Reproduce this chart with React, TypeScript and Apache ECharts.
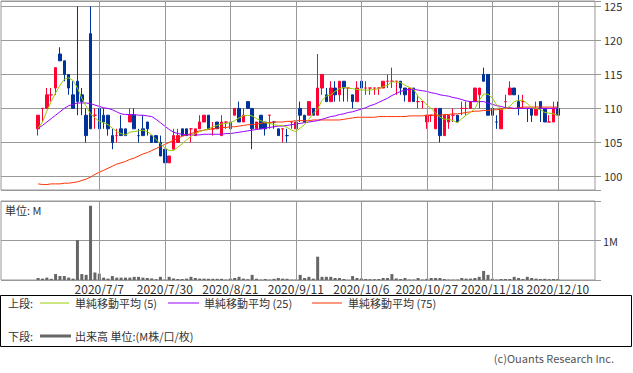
import { useEffect, useRef } from 'react';
import * as echarts from 'echarts';

const dates = [
  '2020/6/17','2020/6/18','2020/6/19','2020/6/22','2020/6/23','2020/6/24','2020/6/25','2020/6/26','2020/6/29','2020/6/30',
  '2020/7/1','2020/7/2','2020/7/3','2020/7/6','2020/7/7','2020/7/8','2020/7/9','2020/7/10','2020/7/13','2020/7/14',
  '2020/7/15','2020/7/16','2020/7/17','2020/7/20','2020/7/21','2020/7/22','2020/7/27','2020/7/28','2020/7/29','2020/7/30',
  '2020/7/31','2020/8/3','2020/8/4','2020/8/5','2020/8/6','2020/8/7','2020/8/11','2020/8/12','2020/8/13','2020/8/14',
  '2020/8/17','2020/8/18','2020/8/19','2020/8/20','2020/8/21','2020/8/24','2020/8/25','2020/8/26','2020/8/27','2020/8/28',
  '2020/8/31','2020/9/1','2020/9/2','2020/9/3','2020/9/4','2020/9/7','2020/9/8','2020/9/9','2020/9/10','2020/9/11',
  '2020/9/14','2020/9/15','2020/9/16','2020/9/17','2020/9/18','2020/9/23','2020/9/24','2020/9/25','2020/9/28','2020/9/29',
  '2020/9/30','2020/10/1','2020/10/2','2020/10/5','2020/10/6','2020/10/7','2020/10/8','2020/10/9','2020/10/12','2020/10/13',
  '2020/10/14','2020/10/15','2020/10/16','2020/10/19','2020/10/20','2020/10/21','2020/10/22','2020/10/23','2020/10/26','2020/10/27',
  '2020/10/28','2020/10/29','2020/10/30','2020/11/2','2020/11/4','2020/11/5','2020/11/6','2020/11/9','2020/11/10','2020/11/11',
  '2020/11/12','2020/11/13','2020/11/16','2020/11/17','2020/11/18','2020/11/19','2020/11/20','2020/11/24','2020/11/25','2020/11/26',
  '2020/11/27','2020/11/30','2020/12/1','2020/12/2','2020/12/3','2020/12/4','2020/12/7','2020/12/8','2020/12/9','2020/12/10',
];

const dateLabels = ['2020/7/7','2020/7/30','2020/8/21','2020/9/11','2020/10/6','2020/10/27','2020/11/18','2020/12/10'];

const opens = [
  107,110,110,112,113,118,117,115,112,114, 112,109,121,109,110,109,109,106,106,107,
  107,108,109,106,107,108,106,106,105,104, 102,104,105,107,107,107,106,107,108,109,
  107,108,106,108,107,109,110,108,111,110, 107,109,108,109,108,107,107,106,108,107,
  110,109,109,110,109,113,112,111,113,112, 114,113,112,111,114,113,113,113,113,113,
  114,114,114,114,113,111,113,111,111,108, 109,107,110,106,108,109,109,110,110,110,
  111,112,115,115,110,108,107,111,112,113, 111,111,110,110,109,111,110,108,108,110,
];
const closes = [
  109,110,112,112,116,117,115,113,110,111, 111,106,107,109,107,108,107,105,106,106,
  106,109,107,106,106,107,105,105,103,102, 103,106,106,106,106,107,107,108,109,107,
  107,107,108,108,108,110,108,109,110,107, 108,107,107,109,108,106,107,106,108,108,
  109,108,111,109,113,115,111,113,112,114, 113,113,111,113,113,113,113,113,113,114,
  114,114,114,113,112,113,111,111,111,109, 109,110,106,109,109,109,108,110,110,111,
  113,113,114,109,109,108,110,111,113,112, 110,111,110,109,110,110,108,108,110,109,
];
const lows = [
  106,108,110,111,112,117,114,112,110,109, 109,105,107,107,107,107,106,104,105,106,
  106,108,107,105,106,106,105,105,103,102, 102,104,105,106,106,105,106,107,108,107,
  106,107,106,107,107,109,108,108,110,104, 107,107,106,107,107,106,105,105,107,107,
  108,108,109,109,109,112,111,111,111,111, 111,111,110,111,112,112,112,112,112,113,
  113,113,112,112,111,111,111,110,110,107, 108,107,105,106,107,108,108,109,109,110,
  111,110,114,109,107,107,107,110,112,112, 109,110,108,108,109,108,108,108,108,109,
];
const highs = [
  109,110,113,113,116,119,117,115,114,125, 113,110,125,110,111,110,109,107,107,109,
  107,110,110,107,109,108,106,106,106,104, 103,107,107,107,107,107,107,109,109,109,
  108,108,109,108,109,110,111,110,111,110, 108,109,108,109,108,107,107,107,108,108,
  111,109,111,110,118,115,113,114,114,114, 114,113,112,114,114,114,113,113,113,114,
  115,116,114,114,113,113,113,112,111,109, 109,110,110,109,109,110,109,111,111,111,
  113,113,116,115,110,109,110,112,114,113, 112,112,110,110,111,111,110,109,111,111,
];

const volumes = [
  0.05,0.035,0.06,0.03,0.15,0.10,0.10,0.06,0.035,1.01, 0.15,0.13,1.88,0.19,0.16,0.06,0.035,0.10,0.06,0.06,
  0.06,0.06,0.08,0.08,0.06,0.05,0.04,0.02,0.08,0.01, 0.08,0.04,0.025,0.025,0.035,0.08,0.05,0.035,0.035,0.03,
  0.03,0.03,0.03,0.01,0.035,0.05,0.08,0.035,0.02,0.13, 0.03,0.01,0.025,0.01,0.03,0.05,0.035,0.03,0.01,0.01,
  0.13,0.05,0.08,0.035,0.59,0.08,0.08,0.08,0.05,0.05, 0.025,0.005,0.10,0.05,0.04,0.025,0.02,0.02,0.025,0.05,
  0.05,0.15,0.04,0.025,0.05,0.01,0.01,0.05,0.01,0.03, 0.05,0.05,0.05,0.025,0.01,0.01,0.01,0.05,0.035,0.035,
  0.05,0.08,0.23,0.13,0.03,0.01,0.025,0.025,0.025,0.08, 0.05,0.025,0.08,0.05,0.035,0.025,0.03,0.02,0.025,0.025,
];

const ma5 = [
  107.1,108.0,109.6,111.0,112.3,113.4,114.3,114.5,114.1,113.0, 111.5,110.3,109.2,108.6,108.1,107.9,107.6,107.1,106.6,106.3,
  106.1,106.5,106.6,106.7,106.8,106.6,106.1,105.4,104.8,104.2, 103.8,103.8,104.3,104.8,105.4,105.9,106.3,106.6,106.8,107.0,
  107.3,107.5,107.7,107.8,107.9,108.2,108.6,108.9,109.0,108.9, 108.5,108.2,107.9,107.8,107.6,107.5,107.5,107.2,106.8,106.6,
  107.1,107.6,108.4,109.3,109.9,111.2,111.8,112.0,112.5,112.9, 113.1,113.0,112.9,112.8,112.7,112.7,112.7,112.8,112.9,113.2,
  113.4,113.9,113.9,113.8,113.4,113.1,112.8,111.7,111.2,110.5, 110.0,109.3,108.7,108.4,108.4,108.2,107.9,108.5,109.0,109.4,
  110.0,111.2,112.1,112.1,111.5,110.5,109.8,110.0,110.3,111.0, 111.2,111.2,110.7,110.1,110.0,109.8,109.4,109.3,109.2,109.0,
];
const ma25 = [
  107.1,107.5,108.0,108.5,109.0,109.5,110.0,110.4,110.6,110.8, 110.8,110.8,110.7,110.5,110.3,110.1,110.0,109.8,109.5,109.2,
  109.1,109.1,109.1,109.0,109.0,108.9,108.8,108.4,107.9,107.4, 106.9,106.5,106.3,106.2,106.1,106.1,106.1,106.1,106.2,106.2,
  106.2,106.2,106.2,106.3,106.3,106.4,106.5,106.6,106.7,106.8, 106.9,107.0,107.1,107.2,107.3,107.4,107.4,107.5,107.6,107.7,
  107.8,107.9,108.0,108.1,108.2,108.4,108.6,108.8,108.9,109.1, 109.2,109.4,109.5,109.7,109.9,110.1,110.4,110.6,110.9,111.2,
  111.5,111.9,112.2,112.5,112.7,112.8,112.8,112.7,112.6,112.5, 112.3,112.2,112.0,111.9,111.8,111.6,111.5,111.3,111.1,111.0,
  111.0,111.0,111.0,110.8,110.6,110.4,110.3,110.1,110.1,110.0, 110.0,110.0,110.0,110.0,110.0,110.0,110.0,110.0,110.0,110.1,
];
const ma75 = [
  98.9,98.8,98.8,98.9,98.9,98.9,99.0,99.0,99.1,99.2, 99.4,99.6,99.9,100.3,100.6,100.9,101.2,101.5,101.8,102.0,
  102.2,102.5,102.7,103.0,103.3,103.5,103.8,104.1,104.4,104.7, 105.0,105.3,105.6,105.9,106.1,106.3,106.5,106.7,106.8,106.9,
  107.0,107.1,107.2,107.2,107.3,107.3,107.4,107.5,107.6,107.6, 107.7,107.8,107.9,107.9,108.0,108.0,108.0,108.1,108.1,108.2,
  108.2,108.2,108.2,108.3,108.3,108.3,108.3,108.3,108.3,108.3, 108.4,108.5,108.6,108.7,108.7,108.7,108.7,108.7,108.8,108.8,
  108.8,108.8,108.8,108.8,108.8,108.9,108.9,108.9,108.9,109.0, 109.0,109.0,109.0,109.1,109.1,109.2,109.2,109.3,109.4,109.5,
  109.6,109.6,109.7,109.7,109.8,109.8,109.9,110.0,110.0,110.0, 110.1,110.2,110.2,110.2,110.2,110.2,110.2,110.2,110.2,110.2,
];

const PAD_BEFORE = 8;
const PAD_AFTER = 8;

const UP = '#FF0033';
const DOWN = '#003399';
const GRID = '#999999';
const FONT = '"Noto Sans CJK JP", sans-serif';

export default function App() {
  const ref = useRef<HTMLDivElement>(null);

  useEffect(() => {
    const chart = echarts.init(ref.current!, null, { renderer: 'svg' });
    const pre = Array.from({ length: PAD_BEFORE }, (_, k) => `_a${k}`);
    const post = Array.from({ length: PAD_AFTER }, (_, k) => `_b${k}`);
    const cats = [...pre, ...dates, ...post];
    const blankPre = pre.map(() => '-');
    const blankPost = post.map(() => '-');
    const kData = [
      ...blankPre,
      ...dates.map((_, i) => [opens[i], closes[i], lows[i], highs[i]]),
      ...blankPost,
    ];
    const padLine = (arr: number[]) => [...blankPre, ...arr, ...blankPost];
    const vGrid = dateLabels.map((d) => ({ xAxis: d }));
    const markLineCfg = {
      silent: true,
      symbol: ['none', 'none'],
      label: { show: false },
      lineStyle: { color: GRID, width: 1, type: 'solid' },
      data: vGrid,
      animation: false,
    };

    const text = (t: string, x: number, y: number, extra: any = {}) => ({
      type: 'text',
      x,
      y,
      silent: true,
      style: { text: t, fontSize: 11, fontFamily: FONT, fill: '#333', verticalAlign: 'middle', align: 'left', ...extra },
    });
    const hline = (x1: number, x2: number, y: number, color: string, w: number) => ({
      type: 'line',
      silent: true,
      shape: { x1, y1: y, x2, y2: y },
      style: { stroke: color, lineWidth: w },
    });

    chart.setOption({
      animation: false,
      backgroundColor: '#fff',
      grid: [
        { left: 1, top: 1, width: 594, height: 189, show: true, borderColor: GRID, borderWidth: 1, backgroundColor: 'transparent' },
        { left: 1, top: 201, width: 594, height: 79, show: true, borderColor: GRID, borderWidth: 1, backgroundColor: 'transparent' },
      ],
      xAxis: [
        {
          type: 'category', gridIndex: 0, data: cats, boundaryGap: true,
          axisLine: { show: false }, axisTick: { show: false }, axisLabel: { show: false }, splitLine: { show: false },
        },
        {
          type: 'category', gridIndex: 1, data: cats, boundaryGap: true,
          axisLine: { show: false }, axisTick: { show: false }, splitLine: { show: false },
          axisLabel: {
            show: true,
            interval: (_i: number, v: string) => dateLabels.includes(v),
            formatter: (v: string) => (dateLabels.includes(v) ? v : ''),
            fontSize: 12, fontFamily: FONT, color: '#333', margin: 2,
          },
        },
      ],
      yAxis: [
        {
          type: 'value', gridIndex: 0, position: 'right', min: 98, max: 125.8, splitNumber: 5, scale: true,
          axisLine: { show: false },
          axisTick: { show: true, length: 6, lineStyle: { color: GRID } },
          splitLine: { show: true, lineStyle: { color: GRID, width: 1 } },
          axisLabel: {
            formatter: (v: number) => (Math.abs(v % 5) < 1e-6 ? String(v) : ''),
            fontSize: 11, lineHeight: 11, fontFamily: FONT, color: '#333', margin: 9,
          },
        },
        {
          type: 'value', gridIndex: 1, position: 'right', min: 0, max: 2, interval: 1,
          axisLine: { show: false },
          axisTick: { show: true, length: 6, lineStyle: { color: GRID } },
          splitLine: { show: true, lineStyle: { color: GRID, width: 1 } },
          axisLabel: {
            formatter: (v: number) => (v === 1 ? '1M' : ''),
            fontSize: 11, fontFamily: FONT, color: '#333', margin: 8,
          },
        },
      ],
      series: [
        { type: 'line', xAxisIndex: 0, yAxisIndex: 0, data: [], z: 1, markLine: markLineCfg },
        { type: 'line', xAxisIndex: 1, yAxisIndex: 1, data: [], z: 1, markLine: markLineCfg },
        {
          type: 'candlestick', xAxisIndex: 0, yAxisIndex: 0, data: kData, barWidth: 3, z: 3,
          itemStyle: { color: UP, color0: DOWN, borderColor: UP, borderColor0: DOWN, borderWidth: 1 },
        },
        {
          type: 'line', xAxisIndex: 0, yAxisIndex: 0, data: padLine(ma75), showSymbol: false, symbol: 'none', z: 4,
          lineStyle: { color: '#FF3300', width: 1 },
        },
        {
          type: 'line', xAxisIndex: 0, yAxisIndex: 0, data: padLine(ma25), showSymbol: false, symbol: 'none', z: 4,
          lineStyle: { color: '#9900FF', width: 1 },
        },
        {
          type: 'line', xAxisIndex: 0, yAxisIndex: 0, data: padLine(ma5), showSymbol: false, symbol: 'none', z: 5,
          lineStyle: { color: '#99CC00', width: 1 },
        },
        {
          type: 'bar', xAxisIndex: 1, yAxisIndex: 1, data: padLine(volumes), barWidth: 3, z: 3,
          itemStyle: { color: '#666666' },
        },
      ],
      graphic: [
        text('単位: M', 5, 210),
        {
          type: 'rect', silent: true,
          shape: { x: 0.5, y: 295.5, width: 631, height: 51 },
          style: { fill: '#fff', stroke: '#000', lineWidth: 1 },
        },
        text('上段:', 8, 303),
        hline(40, 69, 303, '#99CC00', 1),
        text('単純移動平均 (5)', 75, 303),
        hline(168, 199, 303, '#9900FF', 1),
        text('単純移動平均 (25)', 204, 303),
        hline(312, 342, 303, '#FF3300', 1),
        text('単純移動平均 (75)', 348, 303),
        text('下段:', 8, 336),
        hline(40, 71, 336, '#666666', 3),
        text('出来高 単位:(M株/口/枚)', 75, 336),
        text('(c)Ouants Research Inc.', 614, 358, { align: 'right', fill: '#555' }),
      ],
    });
    return () => chart.dispose();
  }, []);

  return <div ref={ref} style={{ position: 'fixed', left: 0, top: 0, width: 633, height: 373 }} />;
}
